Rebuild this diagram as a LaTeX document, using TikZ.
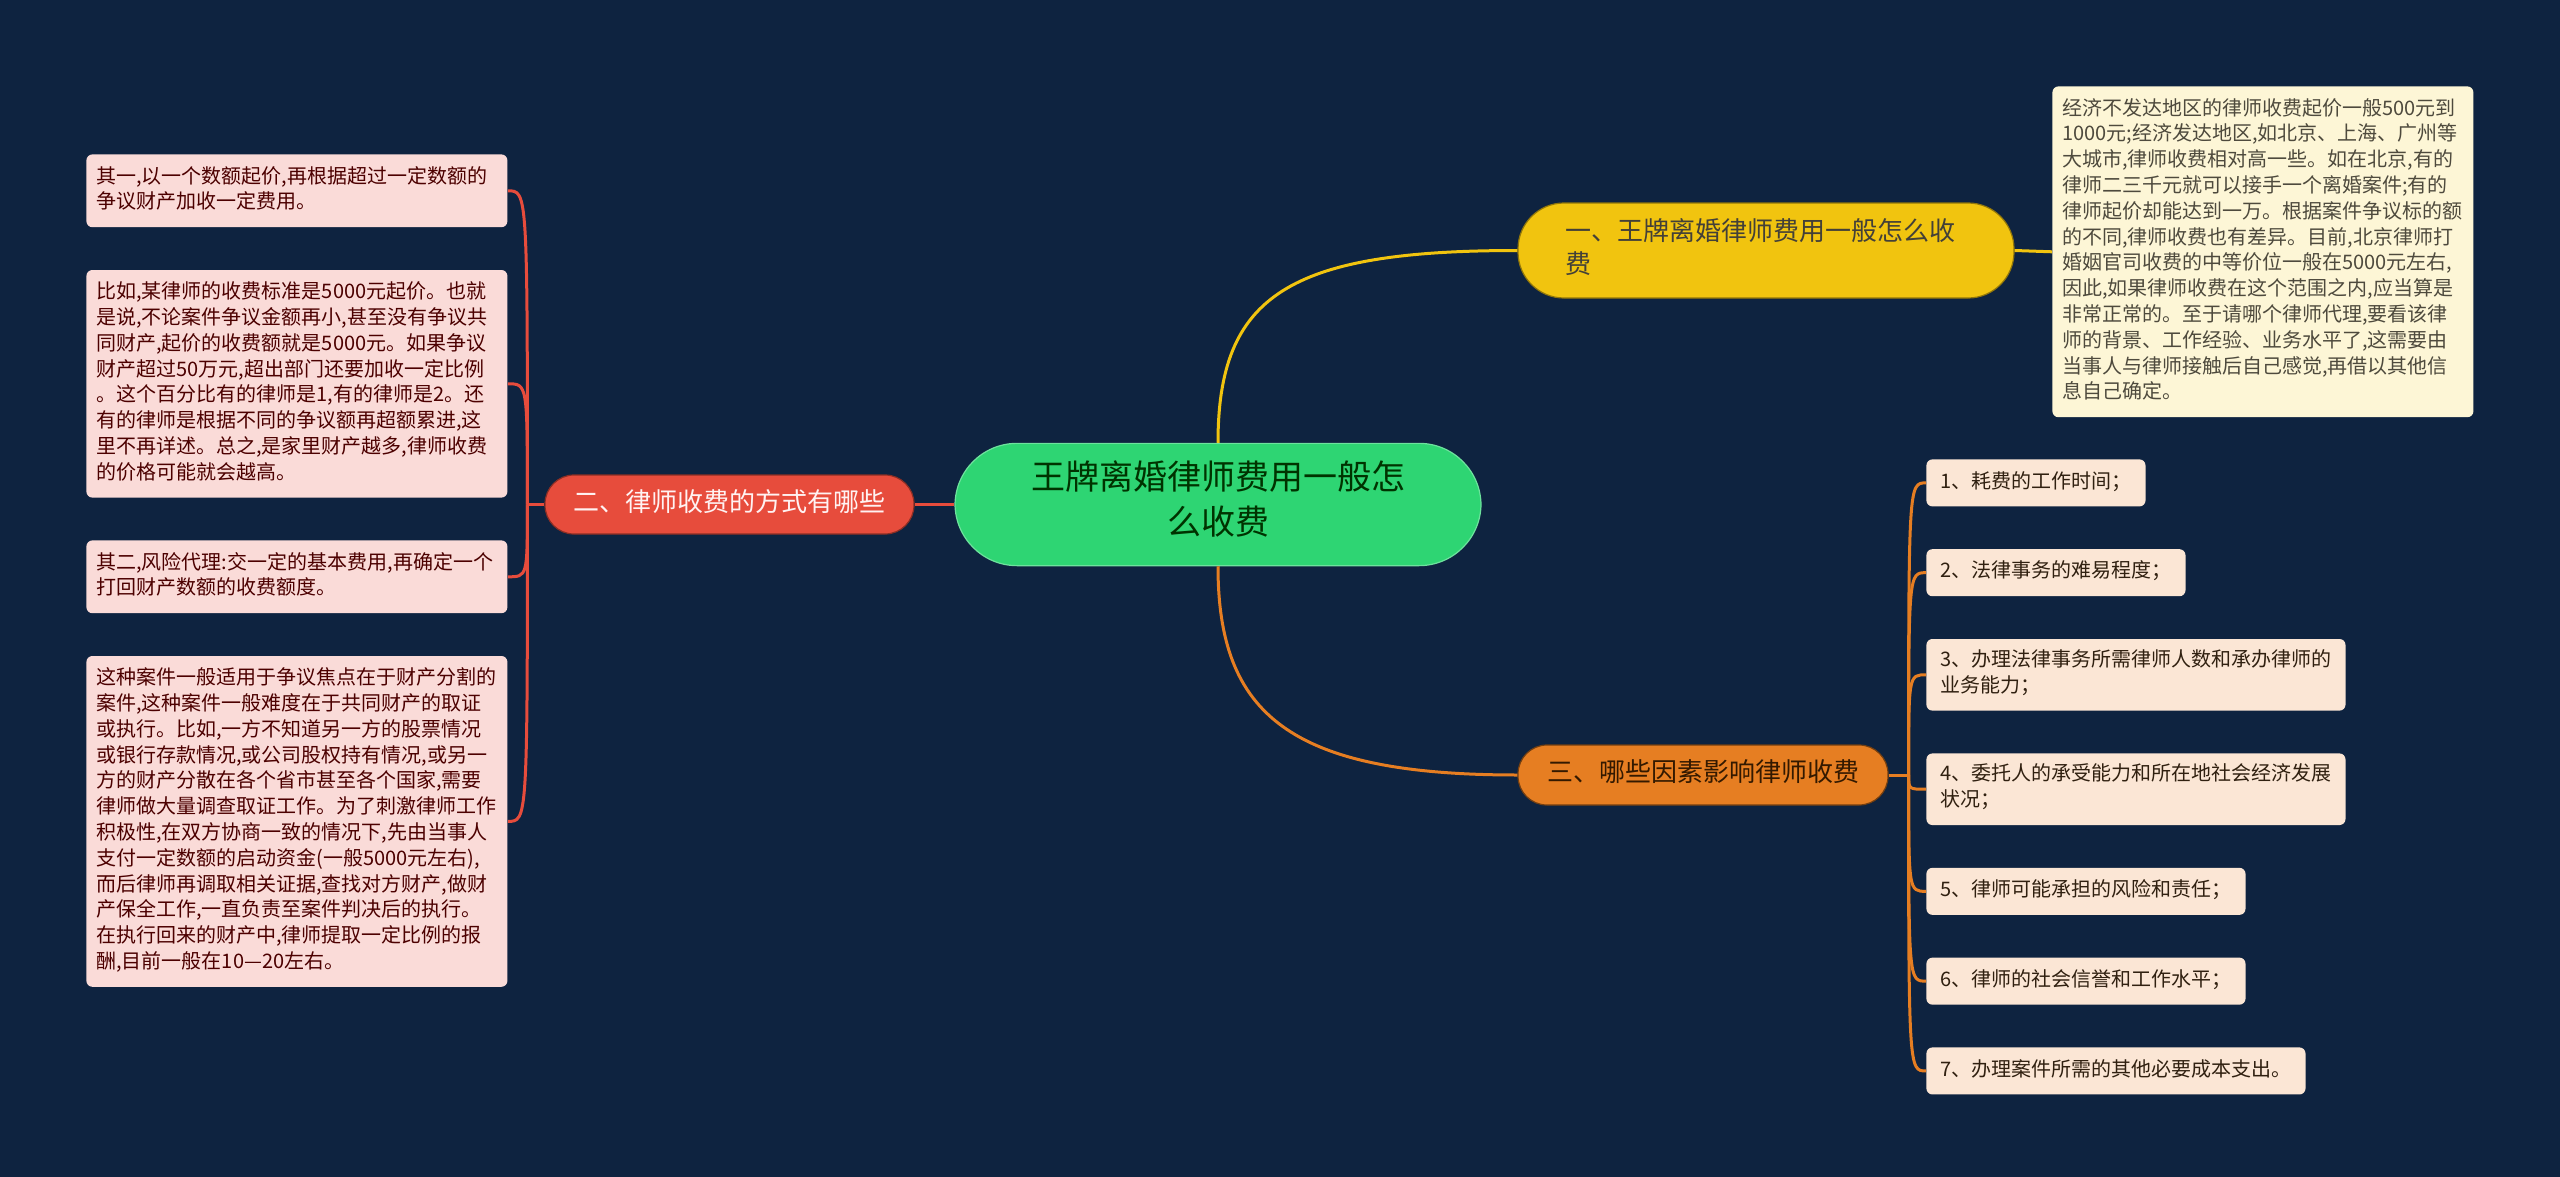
\documentclass[tikz,border=0pt]{standalone}
\usepackage{fontspec}
\setmainfont{Noto Sans CJK SC}
\usetikzlibrary{positioning}

\definecolor{bgnavy}{HTML}{0E2340}
\definecolor{rootgreen}{HTML}{2ED573}
\definecolor{topicyellow}{HTML}{F1C40F}
\definecolor{topicred}{HTML}{E74C3C}
\definecolor{topicorange}{HTML}{E67E22}
\definecolor{leafyellow}{HTML}{FDF6D6}
\definecolor{leafpink}{HTML}{FADBD8}
\definecolor{leafpeach}{HTML}{FBE6D5}

\begin{document}
\begin{tikzpicture}[x=0.5pt, y=-0.5pt, node distance=21pt,
    bodytext/.style={execute at begin node=\strut, execute at end node=\strut},
    rootnode/.style={bodytext, fill=rootgreen, draw=rootgreen!70!white, line width=0.6pt,
        rounded corners=31pt, minimum width=263pt, inner xsep=0pt, inner ysep=8.75pt,
        align=center, font=\fontsize{17}{22.5}\selectfont, text=black!80!green},
    topicnode/.style={bodytext, rounded corners=14.5pt, inner xsep=0pt, inner ysep=0pt,
        minimum height=29.5pt, font=\fontsize{13}{16.5}\selectfont},
    leafnode/.style={bodytext, rounded corners=3pt, inner xsep=5pt, inner ysep=5.3pt,
        text width=200.5pt, align=left, anchor=north west, font=\fontsize{10}{12.9}\selectfont},
    shortleaf/.style={bodytext, rounded corners=3pt, inner xsep=7pt, inner ysep=5.3pt,
        align=left, anchor=north west, fill=leafpeach, text=black!75!brown,
        font=\fontsize{10}{12.9}\selectfont},
    link/.style={line width=1.5pt}
]
    \useasboundingbox (0,0) rectangle (2560,1177);
    \fill[bgnavy] (0,0) rectangle (2560,1177);

    \node[rootnode] (root) at (1218,504.5) {王牌离婚律师费用一般怎\\么收费};

    \node[bodytext, fill=topicyellow, draw=topicyellow!60!black, line width=0.6pt,
        rounded corners=23pt, inner xsep=23.5pt, inner ysep=7.25pt, text width=201pt,
        align=left, font=\fontsize{13}{16.5}\selectfont, text=black!85!yellow]
        (b1) at (1766,250.5) {一、王牌离婚律师费用一般怎么收\\费};
    \node[topicnode, fill=topicred, draw=topicred!60!black, line width=0.6pt,
        minimum width=184.5pt, text=white!95!red] (b2) at (729.5,504.5) {二、律师收费的方式有哪些};
    \node[topicnode, fill=topicorange, draw=topicorange!50!black, line width=0.6pt,
        minimum width=185pt, minimum height=30pt, text=black!80!orange] (b3) at (1703,775) {三、哪些因素影响律师收费};

    \node[leafnode, fill=leafyellow, text=black!80!yellow] (y1) at (2052,86)
        {经济不发达地区的律师收费起价一般500元到\\1000元;经济发达地区,如北京、上海、广州等\\大城市,律师收费相对高一些。如在北京,有的\\律师二三千元就可以接手一个离婚案件;有的\\律师起价却能达到一万。根据案件争议标的额\\的不同,律师收费也有差异。目前,北京律师打\\婚姻官司收费的中等价位一般在5000元左右,\\因此,如果律师收费在这个范围之内,应当算是\\非常正常的。至于请哪个律师代理,要看该律\\师的背景、工作经验、业务水平了,这需要由\\当事人与律师接触后自己感觉,再借以其他信\\息自己确定。};

    \node[leafnode, fill=leafpink, text=black!70!red] (l1) at (86,154)
        {其一,以一个数额起价,再根据超过一定数额的\\争议财产加收一定费用。};
    \node[leafnode, fill=leafpink, text=black!70!red, below=of l1.south west, anchor=north west] (l2)
        {比如,某律师的收费标准是5000元起价。也就\\是说,不论案件争议金额再小,甚至没有争议共\\同财产,起价的收费额就是5000元。如果争议\\财产超过50万元,超出部门还要加收一定比例\\。这个百分比有的律师是1,有的律师是2。还\\有的律师是根据不同的争议额再超额累进,这\\里不再详述。总之,是家里财产越多,律师收费\\的价格可能就会越高。};
    \node[leafnode, fill=leafpink, text=black!70!red, below=of l2.south west, anchor=north west] (l3)
        {其二,风险代理:交一定的基本费用,再确定一个\\打回财产数额的收费额度。};
    \node[leafnode, fill=leafpink, text=black!70!red, below=of l3.south west, anchor=north west] (l4)
        {这种案件一般适用于争议焦点在于财产分割的\\案件,这种案件一般难度在于共同财产的取证\\或执行。比如,一方不知道另一方的股票情况\\或银行存款情况,或公司股权持有情况,或另一\\方的财产分散在各个省市甚至各个国家,需要\\律师做大量调查取证工作。为了刺激律师工作\\积极性,在双方协商一致的情况下,先由当事人\\支付一定数额的启动资金(一般5000元左右),\\而后律师再调取相关证据,查找对方财产,做财\\产保全工作,一直负责至案件判决后的执行。\\在执行回来的财产中,律师提取一定比例的报\\酬,目前一般在10—20左右。};

    \node[shortleaf] (r1) at (1926,459) {1、耗费的工作时间；};
    \node[shortleaf, below=of r1.south west, anchor=north west] (r2) {2、法律事务的难易程度；};
    \node[shortleaf, below=of r2.south west, anchor=north west] (r3) {3、办理法律事务所需律师人数和承办律师的\\业务能力；};
    \node[shortleaf, below=of r3.south west, anchor=north west] (r4) {4、委托人的承受能力和所在地社会经济发展\\状况；};
    \node[shortleaf, below=of r4.south west, anchor=north west] (r5) {5、律师可能承担的风险和责任；};
    \node[shortleaf, below=of r5.south west, anchor=north west] (r6) {6、律师的社会信誉和工作水平；};
    \node[shortleaf, below=of r6.south west, anchor=north west] (r7) {7、办理案件所需的其他必要成本支出。};

    \coordinate[left=8.5pt of b2.west] (j2);
    \coordinate[right=10pt of b3.east] (j3);

    \draw[link, topicyellow] (root.north) .. controls +(0,-148) and +(-228,0) .. (b1.west);
    \draw[link, topicorange] (root.south) .. controls +(0,148) and +(-228,0) .. (b3.west);
    \draw[link, topicred] (root.west) -- (b2.east);
    \draw[link, topicyellow] (b1.east) -- (y1.west);

    \draw[link, topicred] (b2.west) -- (j2);
    \foreach \n in {l1,l2,l3,l4}
        \draw[link, topicred] (j2) .. controls (j2 |- \n.east) .. (\n.east);

    \draw[link, topicorange] (b3.east) -- (j3);
    \foreach \n in {r1,r2,r3,r4,r5,r6,r7}
        \draw[link, topicorange] (j3) .. controls (j3 |- \n.west) .. (\n.west);
\end{tikzpicture}
\end{document}
